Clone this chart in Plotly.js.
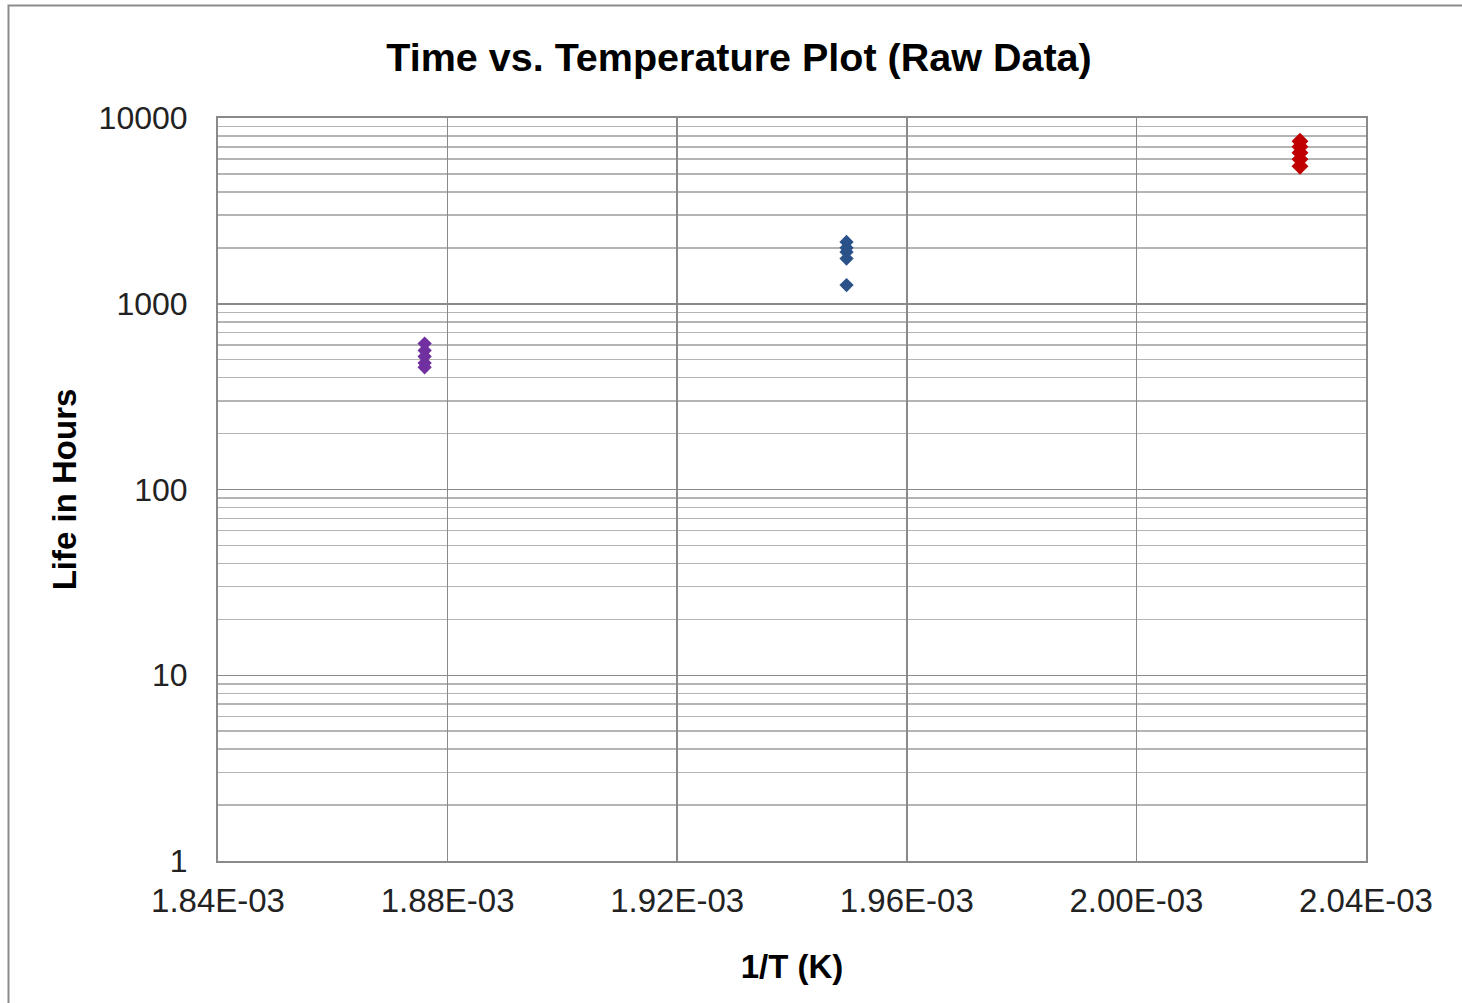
<!DOCTYPE html>
<html>
<head>
<meta charset="utf-8">
<script src="https://cdn.plot.ly/plotly-3.0.1.min.js"></script>
<style>html,body{margin:0;padding:0;background:#fff;}#chart{width:1462px;height:1003px;}</style>
</head>
<body>
<div id="chart"></div>
<script>
// Data
const xPurple = [0.001876, 0.001876, 0.001876, 0.001876, 0.001876];
const yPurple = [610, 560, 520, 480, 455];
const xBlue = [0.0019495, 0.0019495, 0.0019495, 0.0019495, 0.0019495];
const yBlue = [2150, 2000, 1900, 1750, 1260];
const xRed = [0.0020285, 0.0020285, 0.0020285, 0.0020285, 0.0020285];
const yRed = [7500, 7000, 6500, 6000, 5500];

const xTickVals = [0.00184, 0.00188, 0.00192, 0.00196, 0.00200, 0.00204];
const xTickText = ['1.84E-03', '1.88E-03', '1.92E-03', '1.96E-03', '2.00E-03', '2.04E-03'];
const yTickVals = [1, 10, 100, 1000, 10000];
const yTickText = ['1', '10', '100', '1000', '10000'];
const yMinorVals = [];
[1, 10, 100, 1000].forEach(d => { for (let k = 2; k <= 9; k++) yMinorVals.push(d * k); });

const FONT = 'Liberation Sans, Arial, sans-serif';

const traces = [
  {x: xPurple, y: yPurple, mode: 'markers', type: 'scatter',
   marker: {symbol: 'diamond', size: 11, color: '#7030A0'}},
  {x: xBlue, y: yBlue, mode: 'markers', type: 'scatter',
   marker: {symbol: 'diamond', size: 11, color: '#2A5289'}},
  {x: xRed, y: yRed, mode: 'markers', type: 'scatter',
   marker: {symbol: 'diamond', size: 13, color: '#C00000'}}
];

const layout = {
  width: 1462, height: 1003,
  margin: {l: 218, r: 96, t: 118, b: 142},
  paper_bgcolor: '#fff', plot_bgcolor: '#fff',
  showlegend: false,
  font: {family: FONT, color: '#000'},
  title: {text: '<b>Time vs. Temperature Plot (Raw Data)</b>', font: {size: 39.5, family: FONT, color: '#000'},
          x: (739 - 218) / 1148, xref: 'paper', xanchor: 'center', y: 0.943, yanchor: 'middle'},
  xaxis: {
    range: [0.00184, 0.00204], tickmode: 'array', tickvals: xTickVals, ticktext: xTickText,
    tickfont: {size: 33, family: FONT, color: '#222'},
    ticks: 'outside', ticklen: 9, tickcolor: 'rgba(0,0,0,0)',
    showgrid: true, gridcolor: '#8a8a8a', gridwidth: 1.5,
    showline: true, linecolor: '#8a8a8a', linewidth: 2, mirror: true, zeroline: false,
    title: {text: '<b>1/T (K)</b>', font: {size: 33, family: FONT, color: '#000'}, standoff: 37}
  },
  yaxis: {
    type: 'log', range: [0, 4], tickmode: 'array', tickvals: yTickVals, ticktext: yTickText,
    tickfont: {size: 32, family: FONT, color: '#222'},
    ticks: 'outside', ticklen: 22, tickcolor: 'rgba(0,0,0,0)',
    showgrid: true, gridcolor: '#8a8a8a', gridwidth: 1.5,
    minor: {tickmode: 'array', tickvals: yMinorVals, showgrid: true, gridcolor: '#b4b4b4', gridwidth: 1.5, ticks: ''},
    showline: true, linecolor: '#8a8a8a', linewidth: 2, mirror: true, zeroline: false,
    title: {text: '<b>Life in Hours</b>', font: {size: 33, family: FONT, color: '#000'}, standoff: 12}
  },
  shapes: [{type: 'rect', xref: 'paper', yref: 'paper',
            x0: (8.5 - 218) / 1148, x1: 1.2, y0: -0.3, y1: (861 - 5.5) / 743,
            line: {color: '#8c8c8c', width: 2}, fillcolor: 'rgba(0,0,0,0)', layer: 'below'}]
};

Plotly.newPlot('chart', traces, layout, {displayModeBar: false, staticPlot: true});
</script>
</body>
</html>
